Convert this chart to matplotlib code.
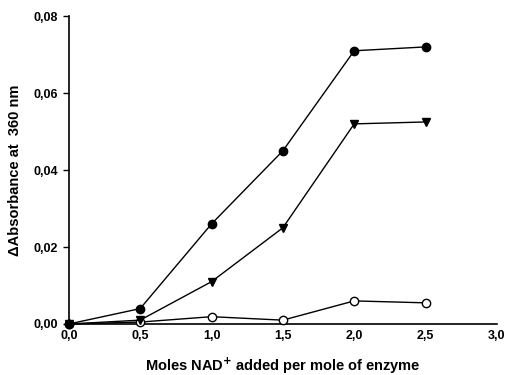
import matplotlib
matplotlib.use("Agg")
import matplotlib.pyplot as plt

plt.rcParams["font.family"] = ["Liberation Sans", "DejaVu Sans"]
plt.rcParams["font.weight"] = "bold"

x = [0.0, 0.5, 1.0, 1.5, 2.0, 2.5]
circles = [0.0, 0.0040, 0.0260, 0.0450, 0.0710, 0.0720]
triangles = [0.0, 0.0010, 0.0110, 0.0250, 0.0520, 0.0525]
open_circles = [0.0, 0.0005, 0.0019, 0.0010, 0.0060, 0.0055]

xticks = [0.0, 0.5, 1.0, 1.5, 2.0, 2.5, 3.0]
yticks = [0.0, 0.02, 0.04, 0.06, 0.08]

fig = plt.figure(figsize=(5.06, 3.75), dpi=100)
ax = fig.add_axes([0.136, 0.136, 0.846, 0.821])

ax.plot(x, open_circles, "-o", color="black", lw=1, ms=6, mfc="white",
        mec="black", mew=1, zorder=3, clip_on=False)
ax.plot(x, triangles, "-v", color="black", lw=1, ms=6, zorder=4, clip_on=False)
ax.plot(x, circles, "-o", color="black", lw=1, ms=6, zorder=5, clip_on=False)

ax.set_xlim(0, 3.0)
ax.set_ylim(0, 0.08)
ax.set_xticks(xticks)
ax.set_yticks(yticks)
ax.set_xticklabels([f"{v:.1f}".replace(".", ",") for v in xticks])
ax.set_yticklabels([f"{v:.2f}".replace(".", ",") for v in yticks])
ax.tick_params(axis="both", labelsize=9, width=1, length=4)
ax.tick_params(axis="x", length=0, pad=4)
ax.tick_params(axis="y", pad=4)
for s in ("top", "right"):
    ax.spines[s].set_visible(False)
for s in ("left", "bottom"):
    ax.spines[s].set_linewidth(1.2)

fig.text(0.559, 4.5 / 375, r"Moles NAD$^{\mathbf{+}}$ added per mole of enzyme",
         fontsize=10.5, fontweight="bold", ha="center", va="baseline")
fig.text(15 / 506, 0.547, "\u0394Absorbance at  360 nm", fontsize=10.5,
         fontweight="bold", rotation=90, ha="center", va="center")

fig.savefig("out.png", dpi=100)
